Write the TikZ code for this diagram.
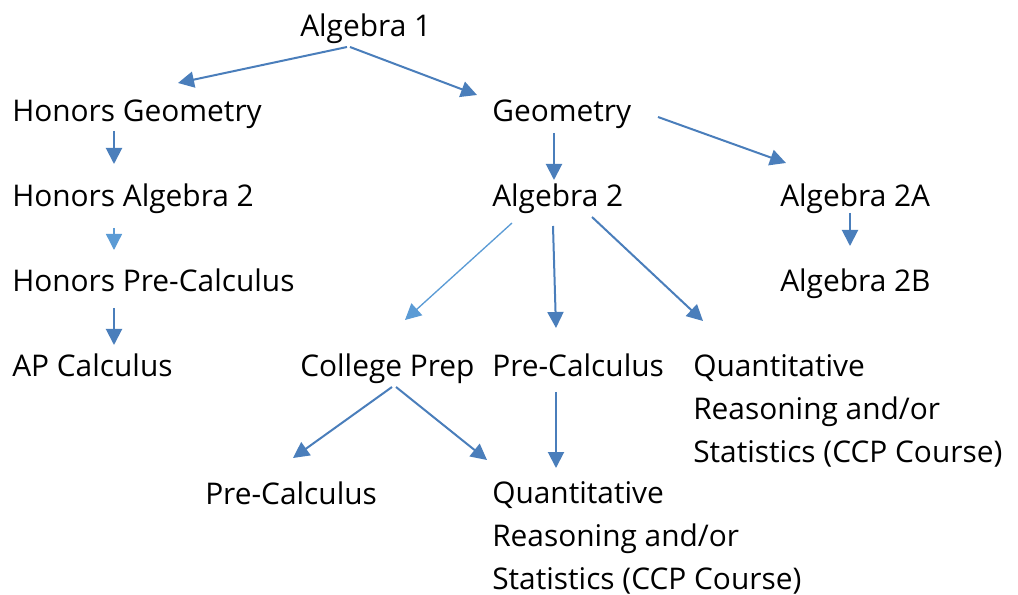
\documentclass[tikz,border=0pt]{standalone}
\usepackage{fontspec}
\setmainfont{Open Sans}
\usepackage{tikz}
\usetikzlibrary{arrows.meta, positioning, calc}
\definecolor{line-blue}{HTML}{4A7EBB}
\definecolor{light-blue}{HTML}{5B9BD5}

\begin{document}
\begin{tikzpicture}[
    x=0.75pt, y=-0.75pt,
    course/.style={anchor=base west, inner sep=0pt, align=left, font=\fontsize{22.4}{31.9}\selectfont},
    link/.style={-{Triangle[length=12pt, width=12pt]}, line width=1.5pt, draw=line-blue},
    thin link/.style={link, line width=1pt, draw=light-blue}
]
    \useasboundingbox (0,0) rectangle (1018,595);

    % Courses (left column)
    \node (alg1) [course] at (300, 37) {Algebra 1};
    \node (hgeo) [course] at (12, 122) {Honors Geometry};
    \node (halg2) [course] at (12, 207) {Honors Algebra 2};
    \node (hpre) [course] at (12, 292) {Honors Pre-Calculus};
    \node (apcalc) [course] at (12, 377) {AP Calculus};

    % Courses (middle and right)
    \node (geo) [course] at (492, 122) {Geometry};
    \node (alg2) [course] at (492, 207) {Algebra 2};
    \node (alg2a) [course] at (780, 207) {Algebra 2A};
    \node (alg2b) [course] at (780, 292) {Algebra 2B};
    \node (cprep) [course] at (300, 377) {College Prep};
    \node (pre) [course] at (492, 377) {Pre-Calculus};
    % three-line texts sit on their last baseline
    \node (qr) [course] at (693, 462) {Quantitative\\Reasoning and/or\\Statistics (CCP Course)};
    \node (cpre) [course] at (205, 504) {Pre-Calculus};
    \node (cqr) [course] at (492, 589) {Quantitative\\Reasoning and/or\\Statistics (CCP Course)};

    % Arrow ends
    \coordinate (a1) at (347, 47);   \coordinate (t1) at (178, 83);
    \coordinate (a2) at (350, 47);   \coordinate (t2) at (477, 95);
    \coordinate (a3) at (114, 131);  \coordinate (t3) at (114, 164);
    \coordinate (a4) at (114, 228);  \coordinate (t4) at (114, 250);
    \coordinate (a5) at (114, 308);  \coordinate (t5) at (114, 345);
    \coordinate (a6) at (554, 133);  \coordinate (t6) at (554, 180);
    \coordinate (a7) at (658, 117);  \coordinate (t7) at (786, 163);
    \coordinate (a8) at (850, 213);  \coordinate (t8) at (850, 246);
    \coordinate (a9) at (512, 223);  \coordinate (t9) at (405, 320);
    \coordinate (a10) at (553, 226); \coordinate (t10) at (556, 328);
    \coordinate (a11) at (592, 217); \coordinate (t11) at (703, 321);
    \coordinate (a12) at (392, 387); \coordinate (t12) at (293, 458);
    \coordinate (a13) at (396, 387); \coordinate (t13) at (487, 460);
    \coordinate (a14) at (556, 392); \coordinate (t14) at (556, 468);

    % Connections
    \draw[link] (a1) -- (t1);
    \draw[link] (a2) -- (t2);
    \draw[link] (a3) -- (t3);
    \draw[thin link] (a4) -- (t4);
    \draw[link] (a5) -- (t5);
    \draw[link] (a6) -- (t6);
    \draw[link] (a7) -- (t7);
    \draw[link] (a8) -- (t8);
    \draw[thin link] (a9) -- (t9);
    \draw[link] (a10) -- (t10);
    \draw[link] (a11) -- (t11);
    \draw[link] (a12) -- (t12);
    \draw[link] (a13) -- (t13);
    \draw[link] (a14) -- (t14);
\end{tikzpicture}
\end{document}
